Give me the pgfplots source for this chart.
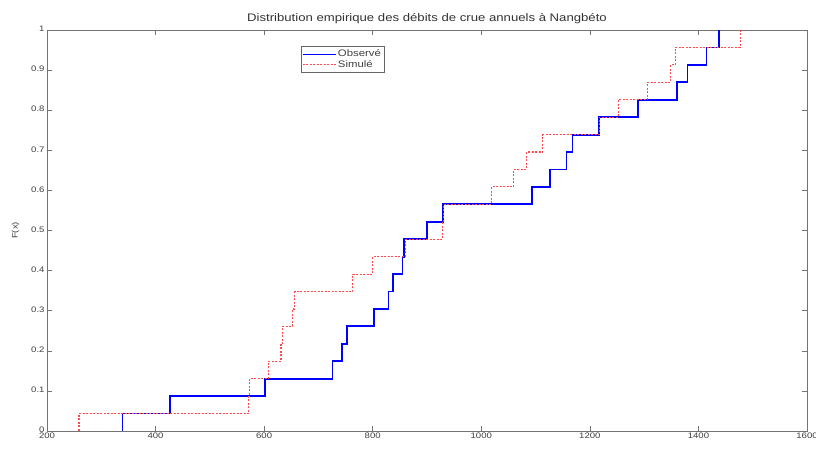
\documentclass[border=0pt]{standalone}
\usepackage{fontspec}
\setmainfont{Liberation Sans}[FakeStretch=1.2]
\usepackage{pgfplots}
\pgfplotsset{compat=1.18}
\definecolor{simred}{RGB}{255,75,75}
\begin{document}
\begin{tikzpicture}
\useasboundingbox (-47bp,-18bp) rectangle (769bp,431bp);
\begin{axis}[
  scale only axis,
  width=760bp, height=401bp,
  at={(0,0)}, anchor=south west,
  xmin=200, xmax=1600, ymin=0, ymax=1,
  xtick={200,400,...,1600},
  ytick={0,0.1,...,1},
  yticklabels={0,0.1,0.2,0.3,0.4,0.5,0.6,0.7,0.8,0.9,1},
  /pgf/number format/assume math mode=true,
  /pgf/number format/1000 sep={},
  tick align=inside,
  major tick length=5bp,
  axis line style={black!55, line width=0.8pt},
  every tick/.style={black!55, line width=0.6pt},
  tick label style={font=\fontsize{8}{9}\selectfont, text=black!75},
  xticklabel style={yshift=2bp},
  yticklabel style={xshift=1bp, yshift=1bp},
  title={Distribution empirique des débits de crue annuels à Nangbéto},
  title style={font=\fontsize{11}{12}\selectfont, text=black!80, yshift=-3bp},
  ylabel={F(x)},
  ylabel style={font=\fontsize{8}{9}\selectfont, text=black!75, yshift=5bp},
  legend style={at={(axis cs:667,0.96)}, anchor=north west, draw=black!60, line width=0.8pt,
    font=\fontsize{9.5}{10}\selectfont, inner sep=1.5pt, row sep=-2pt, text=black!75},
  legend cell align=left,
  legend image code/.code={\draw[#1, line width=1pt] (0cm,0cm) -- (1.15cm,0cm);},
]
\addplot[const plot, blue, line width=1.8pt] coordinates {
(339,0) (339,0.0435) (427,0.0870) (601,0.1304) (726,0.1739) (743,0.2174) (752,0.2609)
(802,0.3043) (829,0.3478) (838,0.3913) (855,0.4348) (858,0.4783) (900,0.5217)
(930,0.5652) (1093,0.6087) (1127,0.6522) (1157,0.6957) (1168,0.7391) (1217,0.7826)
(1289,0.8261) (1360,0.8696) (1380,0.9130) (1415,0.9565) (1438,1)
};
\addlegendentry{Observé}
\addplot[const plot, simred, line width=1.1pt, dash pattern=on 2bp off 1.5bp] coordinates {
(259,0) (259,0.0435) (572,0.0870) (573,0.1304) (608,0.1739) (631,0.2174) (634,0.2609)
(653,0.3043) (656,0.3478) (763,0.3913) (800,0.4348) (860,0.4783) (929,0.5217)
(931,0.5652) (1019,0.6087) (1060,0.6522) (1084,0.6957) (1113,0.7391) (1217,0.7826)
(1252,0.8261) (1307,0.8696) (1349,0.9130) (1357,0.9565) (1477,1)
};
\addlegendentry{Simulé}
\end{axis}
\end{tikzpicture}
\end{document}
